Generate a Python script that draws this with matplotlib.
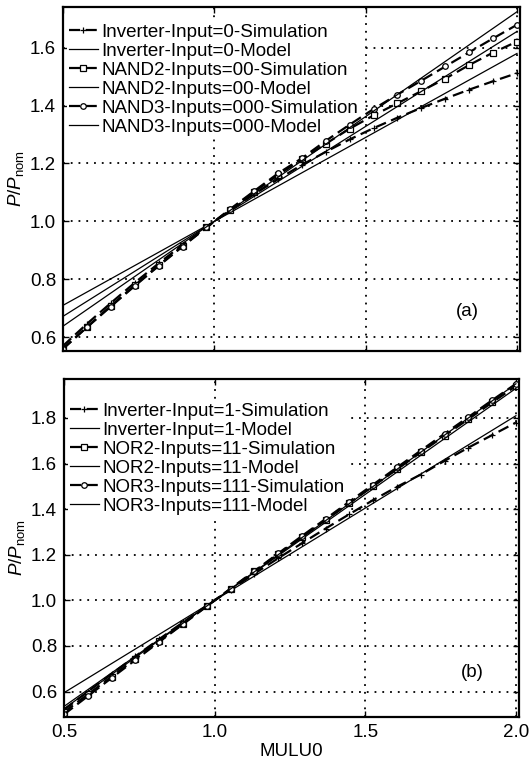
import matplotlib
matplotlib.use("Agg")
import matplotlib.pyplot as plt

plt.rcParams['font.family'] = ['Liberation Sans', 'DejaVu Sans']
plt.rcParams['mathtext.fontset'] = 'custom'
plt.rcParams['mathtext.rm'] = 'Liberation Sans'
plt.rcParams['mathtext.it'] = 'Liberation Sans:italic'

# ---------------- data ----------------
mulu0 = [0.5, 0.579, 0.658, 0.737, 0.816, 0.895, 0.974, 1.053, 1.132, 1.211,
         1.289, 1.368, 1.447, 1.526, 1.605, 1.684, 1.763, 1.842, 1.921, 2.0]
model_x = [0.5, 2.0]

# panel (a)
inv0_sim = [0.570, 0.646, 0.718, 0.788, 0.855, 0.919, 0.980, 1.039, 1.094, 1.146,
            1.195, 1.240, 1.283, 1.322, 1.358, 1.392, 1.424, 1.455, 1.484, 1.512]
inv0_model = [0.710, 1.580]
nand2_sim = [0.560, 0.635, 0.708, 0.779, 0.848, 0.915, 0.979, 1.041, 1.102, 1.160,
             1.215, 1.268, 1.320, 1.366, 1.408, 1.450, 1.493, 1.540, 1.583, 1.621]
nand2_model = [0.672, 1.656]
nand3_sim = [0.560, 0.634, 0.706, 0.777, 0.846, 0.913, 0.979, 1.043, 1.105, 1.166,
             1.218, 1.278, 1.334, 1.388, 1.438, 1.486, 1.535, 1.584, 1.632, 1.679]
nand3_model = [0.638, 1.724]

# panel (b)
inv1_sim = [0.520, 0.600, 0.678, 0.755, 0.830, 0.904, 0.977, 1.047, 1.117, 1.185,
            1.250, 1.315, 1.378, 1.440, 1.498, 1.552, 1.612, 1.670, 1.725, 1.780]
inv1_model = [0.595, 1.810]
nor2_sim = [0.510, 0.588, 0.666, 0.744, 0.821, 0.898, 0.975, 1.051, 1.127, 1.203,
            1.277, 1.352, 1.427, 1.501, 1.575, 1.649, 1.722, 1.795, 1.868, 1.940]
nor2_model = [0.535, 1.930]
nor3_sim = [0.500, 0.580, 0.660, 0.739, 0.818, 0.896, 0.974, 1.052, 1.129, 1.206,
            1.282, 1.357, 1.433, 1.508, 1.583, 1.657, 1.731, 1.804, 1.878, 1.950]
nor3_model = [0.525, 1.950]

labels_a = ['Inverter-Input=0-Simulation', 'Inverter-Input=0-Model',
            'NAND2-Inputs=00-Simulation', 'NAND2-Inputs=00-Model',
            'NAND3-Inputs=000-Simulation', 'NAND3-Inputs=000-Model']
labels_b = ['Inverter-Input=1-Simulation', 'Inverter-Input=1-Model',
            'NOR2-Inputs=11-Simulation', 'NOR2-Inputs=11-Model',
            'NOR3-Inputs=111-Simulation', 'NOR3-Inputs=111-Model']

xticks = [0.5, 1.0, 1.5, 2.0]
yticks_a = [0.6, 0.8, 1.0, 1.2, 1.4, 1.6]
yticks_b = [0.6, 0.8, 1.0, 1.2, 1.4, 1.6, 1.8]

# ---------------- figure ----------------
fig = plt.figure(figsize=(5.29, 7.60), dpi=100)
ax_a = fig.add_axes([0.119, 0.538, 0.864, 0.453])
ax_b = fig.add_axes([0.121, 0.057, 0.860, 0.444])

sim_kw = dict(color='black', lw=1.6, dashes=(5, 2.5), mfc='white', mew=0.9, zorder=3)
mod_kw = dict(color='black', lw=0.9, ls='-', zorder=3)
FS = 13.5


def draw(ax, sims, models, labels, yticks, ylim, tag, tagpos, leg_y):
    markers = ['+', 's', 'o']
    sizes = [4, 4, 4]
    handles = []
    for (s, m, mk, ms) in zip(sims, models, markers, sizes):
        h1, = ax.plot(mulu0, s, marker=mk, ms=ms, **sim_kw)
        h2, = ax.plot(model_x, m, **mod_kw)
        handles += [h1, h2]
    ax.set_xlim(0.5, 2.01)
    ax.set_ylim(*ylim)
    ax.set_xticks(xticks)
    ax.set_yticks(yticks)
    ax.set_yticklabels([f'{v:.1f}' for v in yticks])
    ax.set_axisbelow(True)
    ax.grid(True, color='black', lw=1.3, linestyle=(0, (1, 3.3)))
    ax.tick_params(direction='in', length=4, width=1, top=True, right=True,
                   labelsize=FS, pad=5)
    for sp in ax.spines.values():
        sp.set_linewidth(1.6)
        sp.set_zorder(4)
    ax.set_ylabel(r'$P/P_{\mathrm{nom}}$', fontsize=FS, labelpad=3)
    leg = ax.legend(handles, labels, loc='upper left', frameon=True,
                    facecolor='white', edgecolor='none', framealpha=1,
                    fancybox=False, borderpad=0.1,
                    fontsize=FS, handlelength=1.55, handletextpad=0.2,
                    labelspacing=0.1, borderaxespad=0.2,
                    bbox_to_anchor=(0.0, leg_y))
    leg.set_zorder(2)
    ax.text(tagpos[0], tagpos[1], tag, transform=ax.transAxes,
            fontsize=FS, ha='center', va='center')


draw(ax_a, [inv0_sim, nand2_sim, nand3_sim],
     [inv0_model, nand2_model, nand3_model], labels_a, yticks_a,
     (0.552, 1.741), '(a)', (0.884, 0.116), 0.967)
ax_a.set_xticklabels([])

draw(ax_b, [inv1_sim, nor2_sim, nor3_sim],
     [inv1_model, nor2_model, nor3_model], labels_b, yticks_b,
     (0.49, 1.97), '(b)', (0.897, 0.13), 0.948)
ax_b.set_xticklabels([f'{v:.1f}' for v in xticks])
ax_b.set_xlabel('MULU0', fontsize=FS, labelpad=2)

fig.savefig('out.png', dpi=100)
